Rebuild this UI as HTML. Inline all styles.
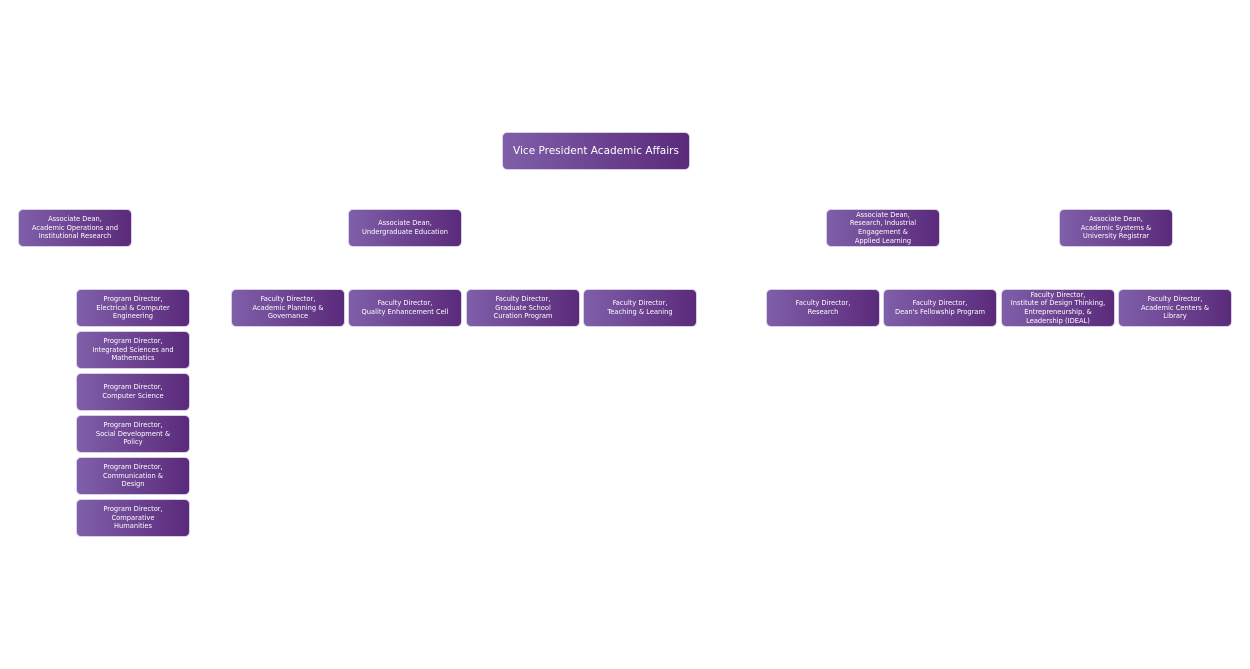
<!DOCTYPE html>
<html><head><style>
body{margin:0;width:1250px;height:669px;background:#fff;position:relative;overflow:hidden;font-family:"DejaVu Sans","Liberation Sans",sans-serif}
.b{position:absolute;width:114px;height:38px;border-radius:5px;background:linear-gradient(90deg,#7f5fa9,#5b2a7b);color:#fff;font-size:6.7px;line-height:8.7px;display:flex;align-items:center;justify-content:center;text-align:center;box-sizing:border-box;padding:0 2px;border:1px solid #d9cfe6}
.r{left:502px;top:132px;width:188px;height:38px;font-size:10.5px;line-height:14px}
</style></head><body>
<div class="b r">Vice President Academic Affairs</div>
<div class="b" style="left:18px;top:209px">Associate Dean,<br>Academic Operations and<br>Institutional Research</div>
<div class="b" style="left:348px;top:209px">Associate Dean,<br>Undergraduate Education</div>
<div class="b" style="left:826px;top:209px">Associate Dean,<br>Research, Industrial<br>Engagement &amp;<br>Applied Learning</div>
<div class="b" style="left:1059px;top:209px">Associate Dean,<br>Academic Systems &amp;<br>University Registrar</div>
<div class="b" style="left:231px;top:289px">Faculty Director,<br>Academic Planning &amp;<br>Governance</div>
<div class="b" style="left:348px;top:289px">Faculty Director,<br>Quality Enhancement Cell</div>
<div class="b" style="left:466px;top:289px">Faculty Director,<br>Graduate School<br>Curation Program</div>
<div class="b" style="left:583px;top:289px">Faculty Director,<br>Teaching &amp; Leaning</div>
<div class="b" style="left:766px;top:289px">Faculty Director,<br>Research</div>
<div class="b" style="left:883px;top:289px">Faculty Director,<br>Dean's Fellowship Program</div>
<div class="b" style="left:1001px;top:289px">Faculty Director,<br>Institute of Design Thinking,<br>Entrepreneurship, &amp;<br>Leadership (IDEAL)</div>
<div class="b" style="left:1118px;top:289px">Faculty Director,<br>Academic Centers &amp;<br>Library</div>
<div class="b" style="left:76px;top:289px">Program Director,<br>Electrical &amp; Computer<br>Engineering</div>
<div class="b" style="left:76px;top:331px">Program Director,<br>Integrated Sciences and<br>Mathematics</div>
<div class="b" style="left:76px;top:373px">Program Director,<br>Computer Science</div>
<div class="b" style="left:76px;top:415px">Program Director,<br>Social Development &amp;<br>Policy</div>
<div class="b" style="left:76px;top:457px">Program Director,<br>Communication &amp;<br>Design</div>
<div class="b" style="left:76px;top:499px">Program Director,<br>Comparative<br>Humanities</div>
</body></html>
